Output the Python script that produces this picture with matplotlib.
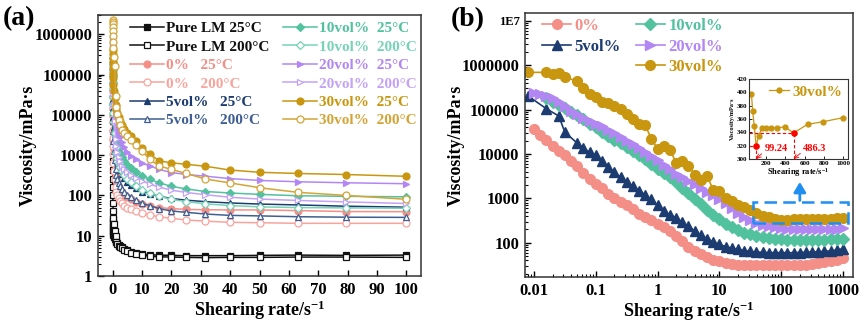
import numpy as np
import matplotlib
matplotlib.use("Agg")
import matplotlib.pyplot as plt
from matplotlib.lines import Line2D
from matplotlib.patches import Rectangle
from matplotlib.ticker import LogLocator, NullFormatter

plt.rcParams.update({
    "font.family": ["Liberation Serif", "DejaVu Serif"],
    "font.weight": "bold",
    "axes.labelweight": "bold",
    "mathtext.fontset": "custom",
    "mathtext.rm": "Liberation Serif:bold",
    "mathtext.it": "Liberation Serif:bold:italic",
    "mathtext.bf": "Liberation Serif:bold",
    "xtick.direction": "in",
    "ytick.direction": "in",
    "axes.linewidth": 1.1,
    "axes.edgecolor": "#333333",
})

# ---------------- panel (a): viscosity vs shear rate, 25 and 200 degC ----------------
rate_a = [0.01, 0.0158, 0.0251, 0.0398, 0.0631, 0.1, 0.158, 0.251, 0.398, 0.631,
          1, 1.26, 1.58, 2, 2.51, 3.16, 3.98, 5.01, 6.31, 7.94,
          10, 12.6, 15.8, 20, 25.1, 31.6, 39.8, 50.1, 63.1, 79.4, 100]

lm_25 = [26, 22, 19, 16.5, 14.5, 13, 11.5, 10.5, 9.5, 8.5,
         7.8, 7.0, 6.5, 6.0, 5.6, 5.2, 4.8, 4.4, 4.0, 3.7,
         3.5, 3.35, 3.3, 3.25, 3.2, 3.2, 3.2, 3.25, 3.3, 3.25, 3.3]
lm_200 = [700, 420, 260, 160, 100, 65, 42, 28, 19, 13,
          10, 7.0, 6.2, 5.7, 5.3, 4.9, 4.5, 4.1, 3.8, 3.5,
          3.3, 3.1, 3.0, 2.95, 2.9, 2.85, 2.9, 2.9, 2.95, 2.95, 2.9]
v0_25 = [40000, 28000, 20000, 14000, 9500, 6500, 4000, 2400, 1400, 700,
         320, 250, 200, 165, 140, 120, 105, 92, 80, 70,
         62, 55, 50, 47, 45, 44, 43.6, 43.6, 42, 39.8, 39.5]
v0_200 = [15000, 10000, 6500, 4200, 2700, 1700, 1050, 650, 400, 250,
          160, 125, 100, 85, 72, 63, 56, 50, 45, 40,
          36, 32.5, 29.5, 27, 24.5, 23, 21.5, 21, 20.3, 20.3, 20.3]
v5_25 = [180000, 130000, 90000, 60000, 38000, 24000, 15000, 9000, 5000, 2800,
         1400, 1000, 750, 560, 430, 340, 270, 220, 180, 150,
         125, 110, 95, 84, 76, 70, 65, 61, 58, 54, 51]
v5_200 = [80000, 50000, 32000, 20000, 12000, 7000, 4000, 2300, 1300, 750,
          450, 330, 250, 200, 170, 145, 125, 105, 90, 75,
          64, 56, 47, 41, 38, 34.5, 32, 31, 29.6, 28.8, 28.5]
v10_25 = [250000, 180000, 130000, 90000, 62000, 43000, 29000, 19000, 12000, 7000,
          4000, 2800, 2000, 1500, 1150, 900, 720, 580, 470, 380,
          310, 250, 205, 168, 145, 125, 115, 106, 98, 95, 92]
v10_200 = [200000, 140000, 95000, 65000, 43000, 28000, 18000, 11000, 6500, 3500,
           1600, 1150, 850, 650, 500, 400, 320, 260, 210, 170,
           140, 115, 95, 80, 70, 62, 56, 52, 50, 49, 48]
v20_25 = [800000, 550000, 380000, 260000, 180000, 125000, 85000, 58000, 35000, 19000,
          10800, 7400, 5000, 3800, 2840, 2140, 1600, 1200, 950, 780,
          620, 545, 440, 370, 330, 300, 262, 235, 218, 206, 195]
v20_200 = [600000, 420000, 280000, 190000, 130000, 85000, 55000, 34000, 18000, 7000,
           2500, 1700, 1200, 900, 700, 550, 450, 380, 320, 270,
           230, 190, 160, 135, 118, 104, 90, 81, 75, 69, 63]
v30_25 = [400000, 320000, 260000, 200000, 150000, 110000, 80000, 56000, 38000, 26000,
          18000, 14000, 11000, 8800, 7000, 5600, 4400, 3600, 3000, 2200,
          1500, 1080, 720, 645, 590, 530, 427, 374, 350, 330, 298]
v30_200 = [2200000, 2000000, 1800000, 1500000, 1200000, 900000, 650000, 450000, 280000, 160000,
           30000, 16000, 10500, 7500, 5600, 4300, 3500, 2900, 2350, 1800,
           1250, 780, 540, 440, 350, 255, 205, 155, 119, 100, 80]

# ---------------- panel (b): viscosity vs shear rate (log-log) ----------------
nan = np.nan
rate_b = [0.00794, 0.01, 0.0126, 0.0158, 0.02, 0.0251, 0.0316, 0.0398, 0.0501, 0.0631, 0.0794,
          0.1, 0.126, 0.158, 0.2, 0.251, 0.316, 0.398, 0.501, 0.631, 0.794,
          1, 1.26, 1.58, 2, 2.51, 3.16, 3.98, 5.01, 6.31, 7.94,
          10, 12.6, 15.8, 20, 25.1, 31.6, 39.8, 50.1, 63.1, 79.4,
          99.24, 126, 158, 200, 251, 316, 398, 486.3, 631, 794, 1000]
b0 = [nan, 37000, 27500, 21000, 15500, 11800, 9300, 7000, 5300, 3700, 2750,
      2100, 1680, 1270, 1000, 840, 720, 570, 450, 380, 320,
      272, 222, 180, 142, 108, 82, 66, 56, 47, 41,
      38, 35.5, 34, 32.5, 32, 31.5, 31.2, 31, 31, 31,
      31, 31.2, 31.5, 32, 32.5, 33.5, 35, 36.5, 39, 42, 46]
b5 = [205000, nan, nan, 105000, nan, 72000, 31000, nan, 17500, 13500, 11000,
      9500, 7000, 5000, 3900, 3000, 2400, 1900, 1500, 1200, 950,
      700, 520, 430, 370, 290, 235, 185, 150, 125, 105,
      92, 82, 76, 71, 67, 64, 62, 61, 60, 60,
      60, 60, 60, 60.5, 61, 62, 63, 64, 66, 69, 74]
b10 = [nan, nan, nan, 180000, 150000, 128000, 108000, 90000, 74000, 60000, 48000,
       40000, 32000, 26000, 21000, 17500, 14500, 11800, 9500, 7600, 6000,
       4700, 3800, 3000, 2300, 1750, 1300, 980, 750, 560, 430,
       340, 270, 230, 195, 170, 155, 145, 138, 130, 125,
       121, 118, 117, 116, 116, 116, 117, 118, 119, 120, 121]
b20 = [nan, 240000, 225000, 205000, 180000, 150000, 120000, 95000, 78000, 65000, 55000,
       48000, 42000, 35000, 29000, 24000, 20000, 16500, 13500, 11000, 9000,
       7300, 5800, 4500, 3600, 3000, 2500, 2100, 1700, 1400, 1180,
       950, 780, 620, 480, 380, 320, 280, 254, 235, 222,
       214, 208, 205, 204, 203, 203, 204, 205, 207, 210, 214]
b30 = [690000, nan, nan, 690000, 620000, 680000, 540000, nan, 435000, 300000, 230000,
       190000, 150000, 140000, 119000, 105000, 78000, 62000, 48000, 44000, 22000,
       13000, 15000, 12600, 6300, 6900, 5300, 3450, 2650, 3150, 1580,
       1450, 1000, 860, 720, 640, 560, 480, 398, 372, 349,
       320, 335, 346, 347, 347, 347, 348, 339, 352, 356, 362]
inset_start = 38            # inset shows 30vol% from 50 s^-1 upward
marked = [99.24, 486.3]     # shear rates highlighted in the inset

# ---------------- colours ----------------
C_LM = "#111111"
C0, C0L = "#F48F88", "#F8A49D"
C5, C5L = "#1C3B70", "#3F5F93"
C10, C10L = "#52C29E", "#77D3B6"
C20, C20L = "#B287F3", "#C4A3F6"
C30, C30L = "#C9960F", "#D4A436"
BLUE = "#1E8FF0"

fig = plt.figure(figsize=(8.66, 3.24), dpi=100)
ax_a = fig.add_axes([98 / 866, 1 - 276 / 324, 323 / 866, 261 / 324])
ax_b = fig.add_axes([525 / 866, 1 - 277 / 324, 328 / 866, 264 / 324])
ax_in = fig.add_axes([749 / 866, 1 - 159 / 324, 99 / 866, 80 / 324])

# ---- panel (a) ----
series_a = [
    (lm_25, "Pure LM 25°C", C_LM, "s", True),
    (lm_200, "Pure LM 200°C", C_LM, "s", False),
    (v0_25, "0%   25°C", C0, "o", True),
    (v0_200, "0%   200°C", C0L, "o", False),
    (v5_25, "5vol%   25°C", C5, "^", True),
    (v5_200, "5vol%   200°C", C5L, "^", False),
    (v10_25, "10vol%  25°C", C10, "D", True),
    (v10_200, "10vol%  200°C", C10L, "D", False),
    (v20_25, "20vol%  25°C", C20, ">", True),
    (v20_200, "20vol%  200°C", C20L, ">", False),
    (v30_25, "30vol%  25°C", C30, "o", True),
    (v30_200, "30vol%  200°C", C30L, "o", False),
]
handles_a = []
for vals, lab, col, mk, filled in series_a:
    ms = 4.3 if mk == "D" else 5
    h, = ax_a.plot(rate_a, vals, color=col, lw=1.1, marker=mk, ms=ms,
                   mfc=col if filled else "white", mec=col, mew=0.9, label=lab)
    handles_a.append(h)

ax_a.set_yscale("log")
ax_a.set_xlim(-5, 105)
ax_a.set_ylim(1, 3.0e6)
ax_a.set_xticks(range(0, 101, 10))
yt = [1, 10, 100, 1000, 10000, 100000, 1000000]
ax_a.set_yticks(yt, [str(v) for v in yt])
ax_a.yaxis.set_minor_locator(LogLocator(base=10, subs=np.arange(2, 10), numticks=20))
ax_a.yaxis.set_minor_formatter(NullFormatter())
ax_a.tick_params(which="major", length=4, width=1, labelsize=12, pad=4)
ax_a.tick_params(which="minor", length=2, width=0.8)
ax_a.set_xlabel("Shearing rate/s$^{-1}$", fontsize=13)
ax_a.set_ylabel("Viscosity/mPa·s", fontsize=13)
ax_a.xaxis.set_label_coords(0.5, -0.085)
ax_a.yaxis.set_label_coords(-0.19, 0.5)

leg_a = ax_a.legend(handles=handles_a, ncol=2, loc="upper left",
                    bbox_to_anchor=(0.099, 0.975), frameon=False, fontsize=11,
                    handlelength=2.2, handletextpad=0.15, columnspacing=0.9,
                    labelspacing=0.31, borderpad=0, borderaxespad=0)
for txt, s in zip(leg_a.get_texts(), series_a):
    txt.set_color(s[2])

# ---- panel (b) ----
rb = np.array(rate_b)
series_b = [
    (b0, "0%", C0, "o", 7),
    (b5, "5vol%", C5, "^", 7),
    (b10, "10vol%", C10, "D", 5.8),
    (b20, "20vol%", C20, ">", 7.5),
    (b30, "30vol%", C30, "o", 7),
]
hb = {}
for vals, lab, col, mk, ms in series_b:
    v = np.array(vals, dtype=float)
    m = ~np.isnan(v)
    h, = ax_b.plot(rb[m], v[m], color=col, lw=1.2, marker=mk, ms=ms,
                   mfc=col, mec=col, label=lab)
    hb[lab] = h

ax_b.set_xscale("log")
ax_b.set_yscale("log")
ax_b.set_xlim(0.00715, 1450)
ax_b.set_ylim(17, 1.5e7)
xt = [0.01, 0.1, 1, 10, 100, 1000]
ax_b.set_xticks(xt, ["0.01", "0.1", "1", "10", "100", "1000"])
ytb = [100, 1000, 10000, 100000, 1000000, 10000000]
ax_b.set_yticks(ytb, ["100", "1000", "10000", "100000", "1000000", "1E7"])
for axis in (ax_b.xaxis, ax_b.yaxis):
    axis.set_minor_locator(LogLocator(base=10, subs=np.arange(2, 10), numticks=20))
    axis.set_minor_formatter(NullFormatter())
ax_b.tick_params(which="major", length=4, width=1, labelsize=12, pad=4)
ax_b.tick_params(which="minor", length=2, width=0.8)
for t in ax_b.yaxis.get_major_ticks():
    if t.get_loc() == 1e7:
        t.label1.set_fontsize(9)
ax_b.set_xlabel("Shearing rate/s$^{-1}$", fontsize=13)
ax_b.set_ylabel("Viscosity/mPa·s", fontsize=13)
ax_b.xaxis.set_label_coords(0.5, -0.085)
ax_b.yaxis.set_label_coords(-0.185, 0.5)

blank = Line2D([], [], linestyle="none", marker="none")
leg_b = ax_b.legend(handles=[hb["0%"], hb["5vol%"], blank,
                             hb["10vol%"], hb["20vol%"], hb["30vol%"]],
                    labels=["0%", "5vol%", " ", "10vol%", "20vol%", "30vol%"],
                    ncol=2, loc="upper left", bbox_to_anchor=(0.052, 0.98),
                    frameon=False, fontsize=12, handlelength=1.75,
                    handletextpad=0.2, columnspacing=0.9, labelspacing=0.27,
                    borderpad=0, borderaxespad=0)
for txt, col in zip(leg_b.get_texts(), [C0, C5, C0, C10, C20, C30]):
    txt.set_color(col)

# dashed box marking the zoomed region and the arrow to the inset
ax_b.add_patch(Rectangle((35.4, 284), 1218 - 35.4, 843 - 284, fill=False,
                         ec=BLUE, lw=1.8, ls=(0, (5, 2.5)), zorder=5))
ax_b.annotate("", xy=(200, 2350), xytext=(200, 900),
              arrowprops=dict(arrowstyle="-|>,head_length=0.5,head_width=0.3",
                              color=BLUE, lw=2, mutation_scale=12,
                              shrinkA=0, shrinkB=0), zorder=6)

# ---- inset: 30vol% at high shear rate ----
xi = rb[inset_start:]
vi = np.array(b30[inset_start:], dtype=float)
hi, = ax_in.plot(xi, vi, color=C30, lw=0.9, marker="o", ms=3.5, label="30vol%")
idx = [int(np.argmin(np.abs(xi - r))) for r in marked]
ax_in.plot(xi[idx], vi[idx], "o", color="red", ms=3.6, zorder=4)
ax_in.set_xlim(25, 1050)
ax_in.set_ylim(300, 420)
x0 = ax_in.get_xlim()[0]
y0 = ax_in.get_ylim()[0]
for i in idx:
    ax_in.plot([x0, xi[i]], [vi[i], vi[i]], color="red", lw=0.8, ls=(0, (3, 2)))
    ax_in.plot([xi[i], xi[i]], [y0, vi[i]], color="red", lw=0.8, ls=(0, (3, 2)))
for i, tx in zip(idx, [185, 585]):
    ax_in.annotate(f"{xi[i]:g}", xy=(xi[i], y0), xytext=(tx, 316),
                   color="red", fontsize=7.5, va="center", ha="left",
                   arrowprops=dict(arrowstyle="->", color="red", lw=0.6,
                                   shrinkA=0, shrinkB=0, relpos=(0, 0.2)))
ax_in.set_xticks([200, 400, 600, 800, 1000])
ax_in.set_yticks(range(300, 421, 20))
ax_in.tick_params(length=2, width=0.6, labelsize=5, pad=1.5)
for sp in ax_in.spines.values():
    sp.set_linewidth(0.8)
ax_in.set_xlabel("Shearing rate/s$^{-1}$", fontsize=6, labelpad=0)
ax_in.set_ylabel("Viscosity/mPa·s", fontsize=4.5, labelpad=1)
leg_in = ax_in.legend(handles=[hi], loc="upper right", frameon=False,
                      fontsize=11, handlelength=1.3, handletextpad=0.2,
                      borderpad=0.2, borderaxespad=0.2)
leg_in.get_texts()[0].set_color(C30)

fig.text(0.003, 0.944, "(a)", fontsize=20, va="center", ha="left")
fig.text(0.521, 0.938, "(b)", fontsize=20, va="center", ha="left")

fig.savefig("out.png", dpi=100)
